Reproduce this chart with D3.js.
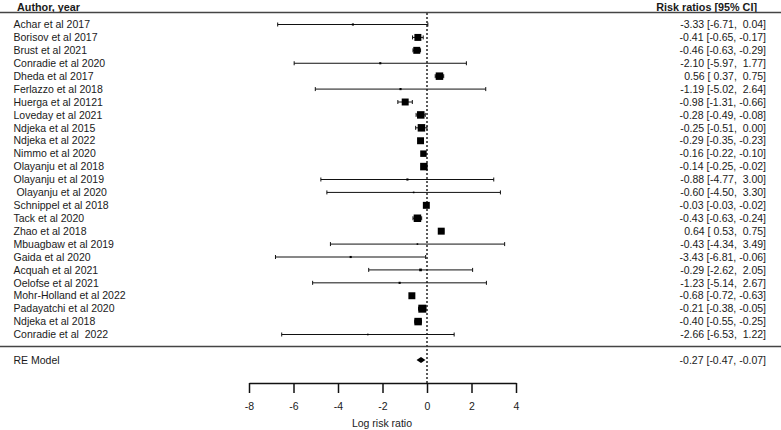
<!DOCTYPE html>
<html>
<head>
<meta charset="utf-8">
<script src="https://cdn.jsdelivr.net/npm/d3@7"></script>
<style>
  html, body { margin: 0; padding: 0; background: #fff; }
  svg { display: block; }
  text { font-family: "Liberation Sans", Arial, sans-serif; fill: #1a1a1a; }
</style>
</head>
<body>
<svg id="chart" width="781" height="430"></svg>
<script>
const studies = [
  "Achar et al 2017", "Borisov et al 2017", "Brust et al 2021", "Conradie et al 2020",
  "Dheda et al 2017", "Ferlazzo et al 2018", "Huerga et al 20121", "Loveday et al 2021",
  "Ndjeka et al 2015", "Ndjeka et al 2022", "Nimmo et al 2020", "Olayanju et al 2018",
  "Olayanju et al 2019", " Olayanju et al 2020", "Schnippel et al 2018", "Tack et al 2020",
  "Zhao et al 2018", "Mbuagbaw et al 2019", "Gaida et al 2020", "Acquah et al 2021",
  "Oelofse et al 2021", "Mohr-Holland et al 2022", "Padayatchi et al 2020", "Ndjeka et al 2018",
  "Conradie et al  2022"
];
const estimates = [-3.33, -0.41, -0.46, -2.10, 0.56, -1.19, -0.98, -0.28, -0.25, -0.29, -0.16, -0.14,
  -0.88, -0.60, -0.03, -0.43, 0.64, -0.43, -3.43, -0.29, -1.23, -0.68, -0.21, -0.40, -2.66];
const ciLower = [-6.71, -0.65, -0.63, -5.97, 0.37, -5.02, -1.31, -0.49, -0.51, -0.35, -0.22, -0.25,
  -4.77, -4.50, -0.03, -0.63, 0.53, -4.34, -6.81, -2.62, -5.14, -0.72, -0.38, -0.55, -6.53];
const ciUpper = [0.04, -0.17, -0.29, 1.77, 0.75, 2.64, -0.66, -0.08, 0.00, -0.23, -0.10, -0.02,
  3.00, 3.30, -0.02, -0.24, 0.75, 3.49, -0.06, 2.05, 2.67, -0.63, -0.05, -0.25, 1.22];
// relative study weights
const weights = [0.4, 4.3, 4.3, 0.4, 5.0, 0.4, 4.3, 5.0, 5.0, 4.3, 3.7, 5.0,
  0.4, 0.23, 4.3, 5.0, 4.3, 0.23, 0.4, 0.64, 0.4, 4.3, 5.7, 5.0, 0.23];
const pooled = { label: "RE Model", est: -0.27, lo: -0.47, hi: -0.07 };
const xTicks = [-8, -6, -4, -2, 0, 2, 4];
const headers = ["Author, year", "Risk ratios [95% CI]"];
const axisTitle = "Log risk ratio";

const svg = d3.select("#chart");
const x = d3.scaleLinear().domain([-8, 4]).range([249, 516]);
const y = d3.scalePoint().domain(d3.range(studies.length)).range([24.5, 334.5]);
const size = d3.scaleSqrt().domain([0, 5]).range([0, 7.5]);
const f2 = d3.format(".2f");
const fmt = v => { const s = f2(v).replace("\u2212", "-"); return v >= 0 ? " " + s : s; };
const label = (e, l, h) => `${fmt(e)} [${fmt(l)}, ${fmt(h)}]`;

// header
svg.append("text").attr("x", 17).attr("y", 10.5).attr("font-weight", "bold")
  .attr("font-size", 10.8).text(headers[0]);
svg.append("text").attr("x", 757).attr("y", 10.5).attr("font-weight", "bold").attr("text-anchor", "end")
  .attr("font-size", 10.8).text(headers[1]);
svg.append("line").attr("x1", 0).attr("x2", 781).attr("y1", 12.5).attr("y2", 12.5)
  .attr("stroke", "#444").attr("stroke-width", 1.5);
svg.append("line").attr("x1", 0).attr("x2", 781).attr("y1", 346.5).attr("y2", 346.5)
  .attr("stroke", "#444").attr("stroke-width", 1.5);

// zero reference line
svg.append("line").attr("x1", x(0)).attr("x2", x(0)).attr("y1", 13).attr("y2", 383)
  .attr("stroke", "#333").attr("stroke-width", 1.6).attr("stroke-dasharray", "2,2");

const rows = svg.append("g").selectAll("g").data(studies).join("g")
  .attr("transform", (d, i) => `translate(0,${y(i)})`);

rows.append("text").attr("x", 13.5).attr("dy", "0.35em").attr("font-size", 10.5)
  .style("white-space", "pre").text(d => d);
rows.append("text").attr("x", 766).attr("dy", "0.35em").attr("font-size", 10.5)
  .attr("text-anchor", "end").style("white-space", "pre")
  .text((d, i) => label(estimates[i], ciLower[i], ciUpper[i]));

rows.append("line").attr("x1", (d, i) => x(ciLower[i])).attr("x2", (d, i) => x(ciUpper[i]))
  .attr("stroke", "#111").attr("stroke-width", 1);
rows.append("line").attr("x1", (d, i) => x(ciLower[i])).attr("x2", (d, i) => x(ciLower[i]))
  .attr("y1", -2).attr("y2", 2).attr("stroke", "#111").attr("stroke-width", 1);
rows.append("line").attr("x1", (d, i) => x(ciUpper[i])).attr("x2", (d, i) => x(ciUpper[i]))
  .attr("y1", -2).attr("y2", 2).attr("stroke", "#111").attr("stroke-width", 1);
rows.append("rect")
  .attr("x", (d, i) => x(estimates[i]) - size(weights[i]) / 2)
  .attr("y", (d, i) => -size(weights[i]) / 2)
  .attr("width", (d, i) => size(weights[i]))
  .attr("height", (d, i) => size(weights[i]))
  .attr("fill", "#000");

// pooled
const py = 360;
svg.append("text").attr("x", 13.5).attr("y", py).attr("dy", "0.35em").attr("font-size", 10.5).text(pooled.label);
svg.append("text").attr("x", 766).attr("y", py).attr("dy", "0.35em").attr("font-size", 10.5)
  .attr("text-anchor", "end").style("white-space", "pre").text(label(pooled.est, pooled.lo, pooled.hi));
svg.append("path")
  .attr("d", `M${x(pooled.lo)},${py} L${x(pooled.est)},${py - 3} L${x(pooled.hi)},${py} L${x(pooled.est)},${py + 3} Z`)
  .attr("fill", "#000");

// axis
const axis = d3.axisBottom(x).tickValues(xTicks).tickSize(10).tickSizeOuter(0).tickFormat(d => String(d));
const ag = svg.append("g").attr("transform", "translate(0,383)").call(axis);
ag.select(".domain").attr("stroke", "#111").attr("stroke-width", 1.5);
ag.selectAll(".tick line").attr("stroke", "#111").attr("stroke-width", 1.5);
ag.selectAll(".tick text").attr("font-size", 10.5).attr("y", 20)
  .style("font-family", "'Liberation Sans', Arial, sans-serif").attr("fill", "#1a1a1a");
svg.append("text").attr("x", 382).attr("y", 423).attr("dy", "0.35em").attr("text-anchor", "middle")
  .attr("font-size", 10.5).text(axisTitle);
</script>
</body>
</html>
